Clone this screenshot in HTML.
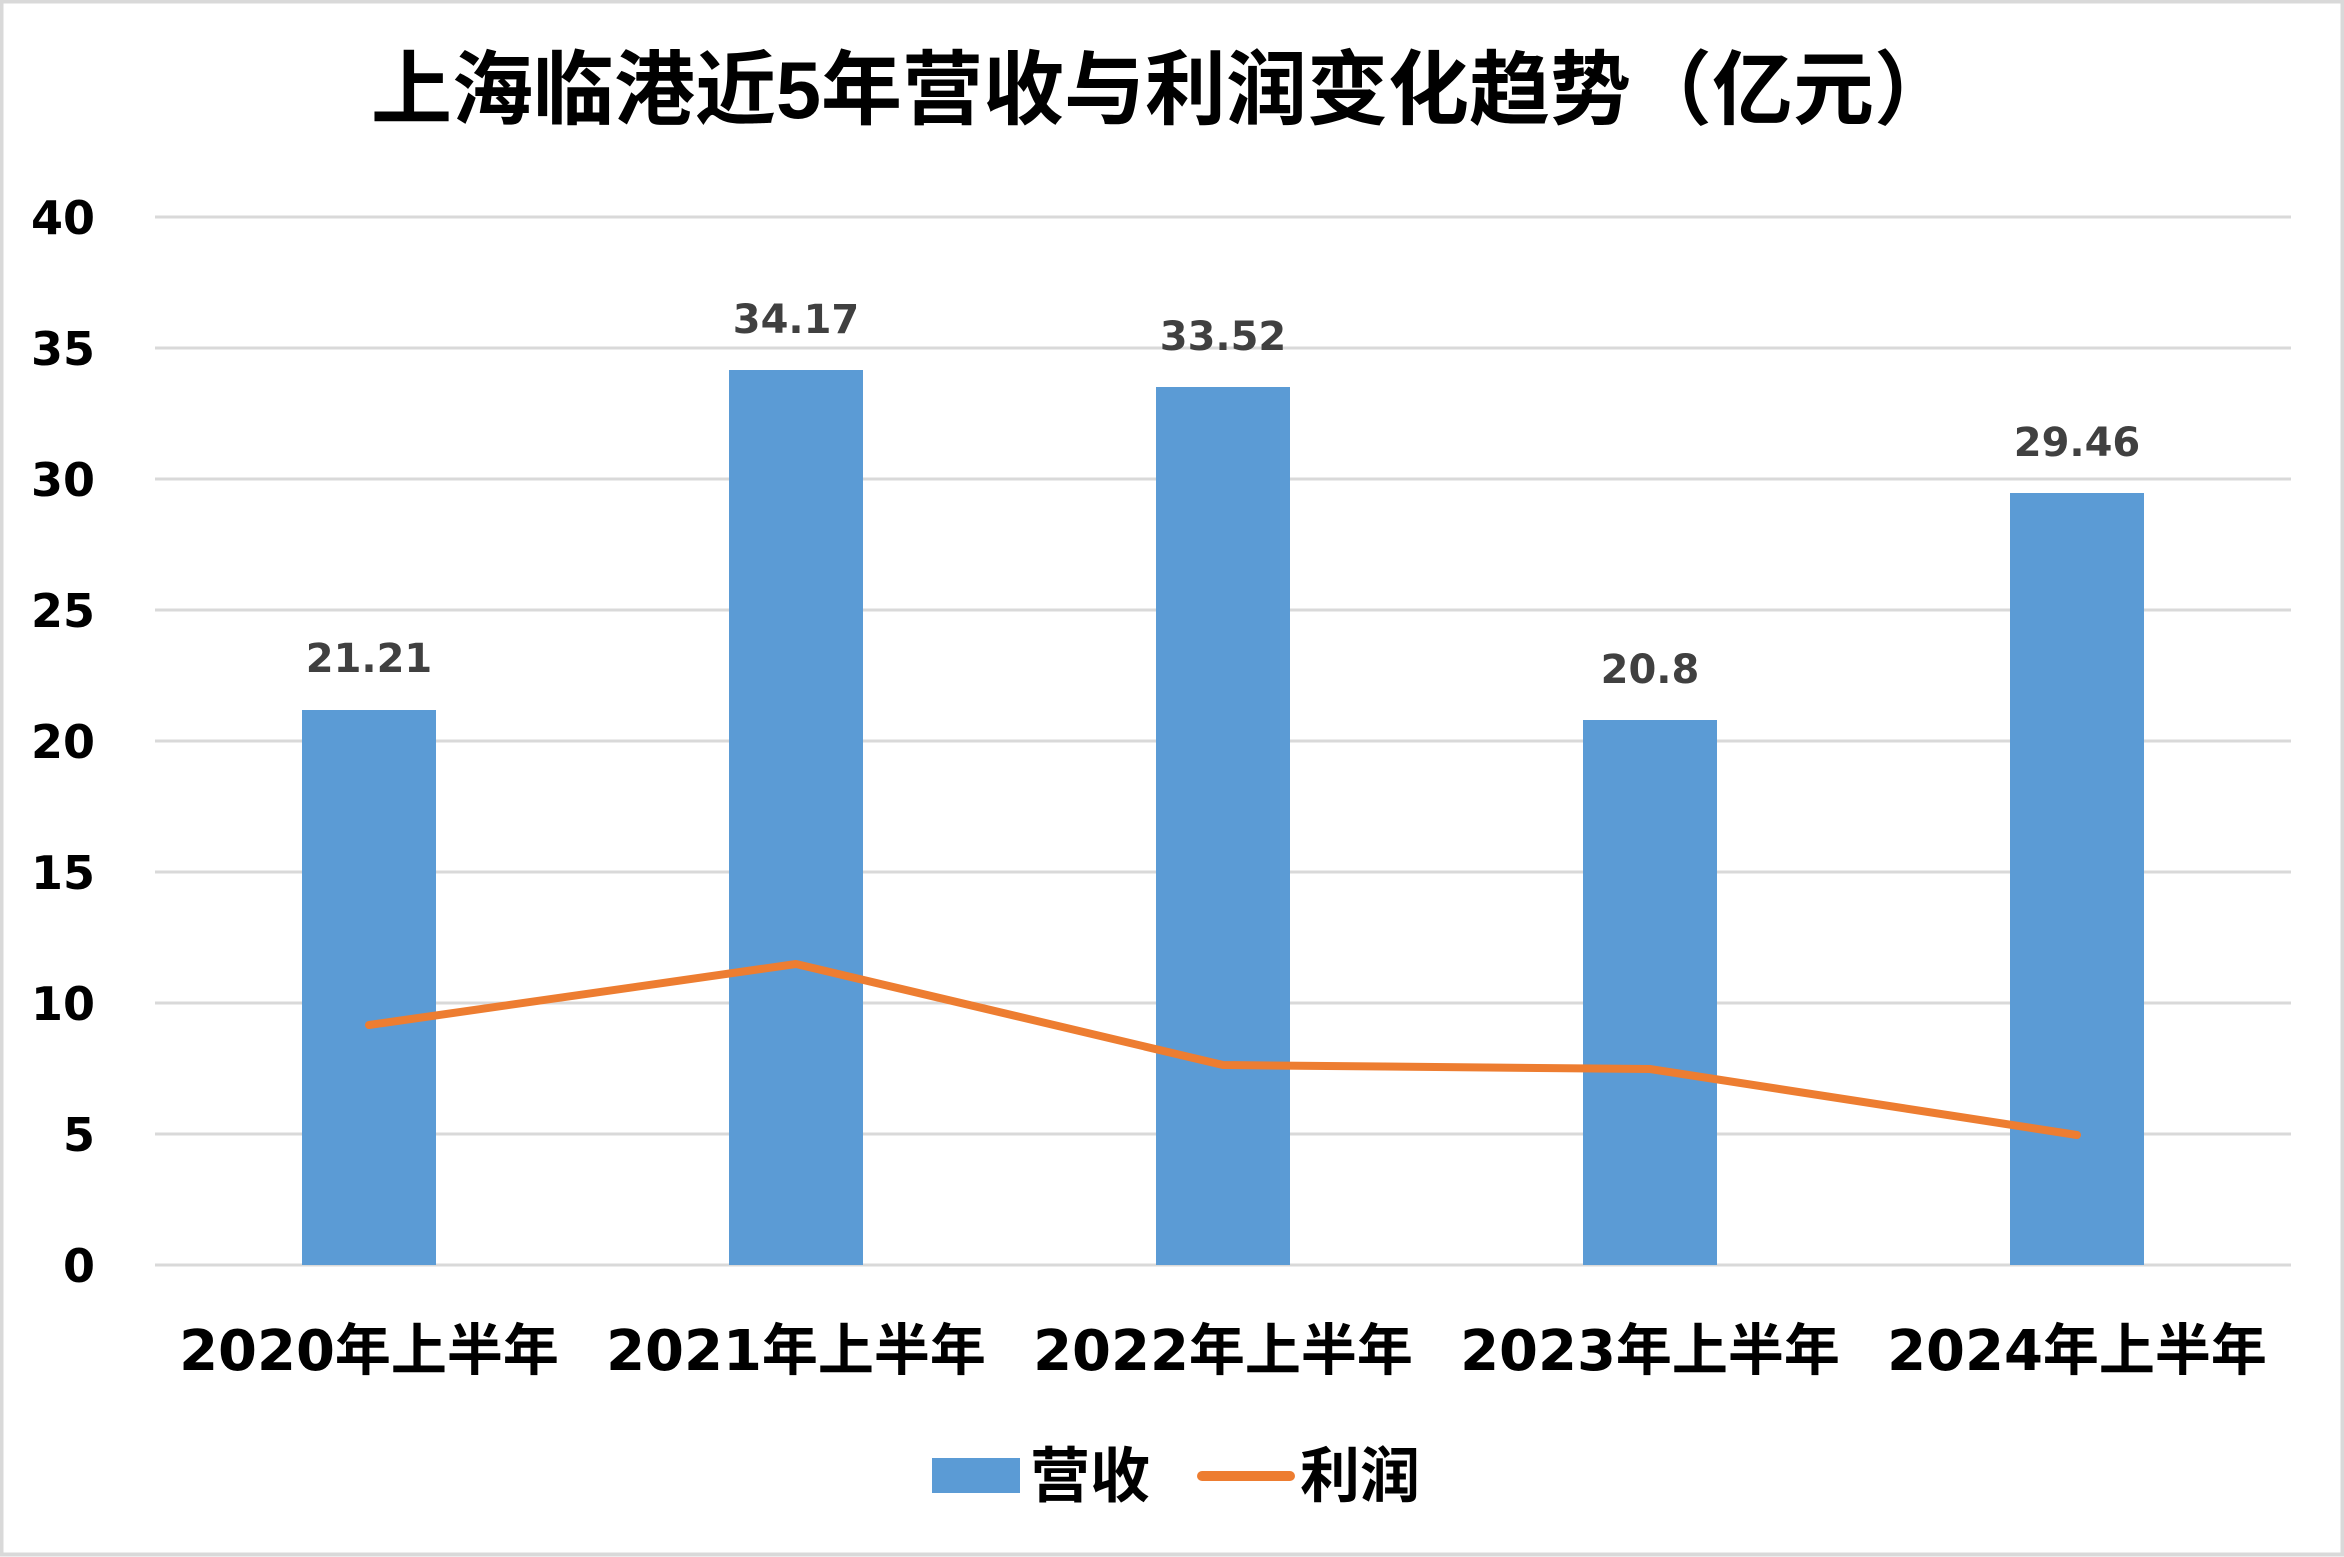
<!DOCTYPE html>
<html><head><meta charset="utf-8"><style>
html,body{margin:0;padding:0;background:#fff}
svg{display:block}
text{font-family:"DejaVu Sans","Noto Sans CJK SC",sans-serif;font-weight:bold}
</style></head><body>
<svg width="2344" height="1557" viewBox="0 0 2344 1557" xmlns="http://www.w3.org/2000/svg">
<rect x="0" y="0" width="2344" height="1557" fill="#fff"/>
<rect x="1.5" y="1.5" width="2341" height="1553" fill="none" stroke="#d9d9d9" stroke-width="4"/>
<text x="1163" y="118" font-size="81" text-anchor="middle" fill="#000" style="font-family:'Liberation Sans','Noto Sans CJK SC',sans-serif">上海临港近5年营收与利润变化趋势（亿元）</text>
<g stroke="#d9d9d9" stroke-width="3">
<line x1="155" x2="2291" y1="217" y2="217"/>
<line x1="155" x2="2291" y1="348" y2="348"/>
<line x1="155" x2="2291" y1="479" y2="479"/>
<line x1="155" x2="2291" y1="610" y2="610"/>
<line x1="155" x2="2291" y1="741" y2="741"/>
<line x1="155" x2="2291" y1="872" y2="872"/>
<line x1="155" x2="2291" y1="1003" y2="1003"/>
<line x1="155" x2="2291" y1="1134" y2="1134"/>
<line x1="155" x2="2291" y1="1265" y2="1265"/>
</g>
<g font-size="46" text-anchor="end" fill="#000">
<text x="95" y="234">40</text><text x="95" y="365">35</text><text x="95" y="496">30</text>
<text x="95" y="627">25</text><text x="95" y="758">20</text><text x="95" y="889">15</text>
<text x="95" y="1020">10</text><text x="95" y="1151">5</text><text x="95" y="1282">0</text>
</g>
<g fill="#5b9bd5">
<rect x="302" y="710" width="134" height="555"/>
<rect x="729" y="370" width="134" height="895"/>
<rect x="1156" y="387" width="134" height="878"/>
<rect x="1583" y="720" width="134" height="545"/>
<rect x="2010" y="493" width="134" height="772"/>
</g>
<g font-size="40" text-anchor="middle" fill="#404040">
<text x="369" y="672">21.21</text>
<text x="796" y="333">34.17</text>
<text x="1223" y="350">33.52</text>
<text x="1650" y="683">20.8</text>
<text x="2077" y="456">29.46</text>
</g>
<polyline points="369,1025 796,964 1223,1065 1650,1069 2077,1135" fill="none" stroke="#ed7d31" stroke-width="8" stroke-linecap="round" stroke-linejoin="round"/>
<g font-size="56" text-anchor="middle" fill="#000">
<text x="369" y="1370">2020年上半年</text>
<text x="796" y="1370">2021年上半年</text>
<text x="1223" y="1370">2022年上半年</text>
<text x="1650" y="1370">2023年上半年</text>
<text x="2077" y="1370">2024年上半年</text>
</g>
<rect x="932" y="1458" width="88" height="35" fill="#5b9bd5"/>
<text x="1030" y="1497" font-size="60" fill="#000">营收</text>
<line x1="1202" x2="1290" y1="1476" y2="1476" stroke="#ed7d31" stroke-width="10" stroke-linecap="round"/>
<text x="1300" y="1497" font-size="60" fill="#000">利润</text>
</svg>
</body></html>
